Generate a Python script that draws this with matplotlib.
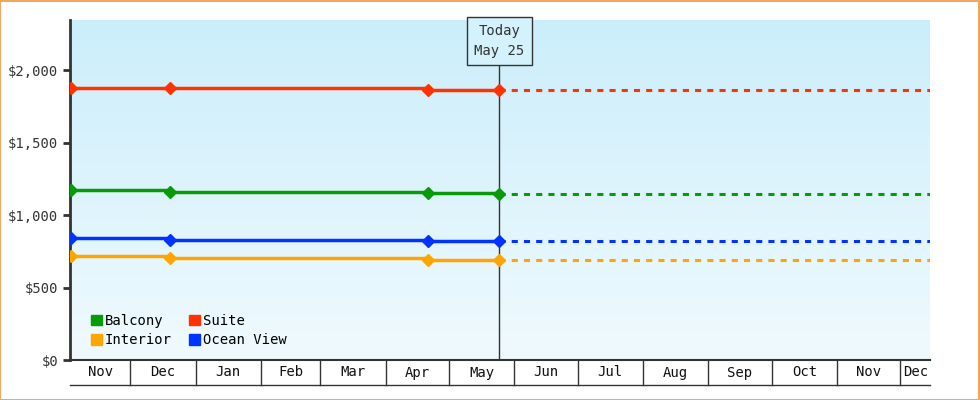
import matplotlib
matplotlib.use("Agg")
import matplotlib.pyplot as plt
import numpy as np
from matplotlib.patches import Patch
from matplotlib.colors import LinearSegmentedColormap

# day numbers counted from Nov 1 (day 0)
month_labels = ["Nov", "Dec", "Jan", "Feb", "Mar", "Apr", "May", "Jun", "Jul", "Aug", "Sep", "Oct", "Nov", "Dec"]
month_starts = [0, 30, 61, 92, 120, 151, 181, 212, 242, 273, 304, 334, 365, 395]
x_start, x_end = 1.5, 409
point_days = [2, 49, 171, 205]
today_day = 205
today_label = "Today\nMay 25"

series_names = ["Balcony", "Interior", "Suite", "Ocean View"]
series_colors = ["#079b07", "#ffa500", "#ff3300", "#0033ff"]
balcony = [1172, 1162, 1150, 1145]
interior = [717, 705, 692, 688]
suite = [1877, 1874, 1862, 1860]
ocean = [842, 830, 823, 820]
series_values = [balcony, interior, suite, ocean]

plt.rcParams['font.family'] = ['DejaVu Sans Mono']
fig = plt.figure(figsize=(9.8, 4), dpi=100)
fig.patch.set_facecolor("white")
fig.patches.append(plt.Rectangle((0.0005, 0.001), 0.998, 0.997, transform=fig.transFigure,
                                 fill=False, edgecolor="#f0a860", lw=1.5))
ax = fig.add_axes([70/980, 40/400, 860/980, 340/400])
ax.set_xlim(x_start, x_end)
ax.set_ylim(0, 2345)

grad = np.linspace(0, 1, 256).reshape(-1, 1)
cm = LinearSegmentedColormap.from_list("g", ["#f0fafe", "#cbeefb"])
ax.imshow(grad, extent=[x_start, x_end, 0, 2345], origin="lower", aspect="auto", cmap=cm, zorder=0)

for name, vals, col in zip(series_names, series_values, series_colors):
    ax.plot(point_days, vals, drawstyle="steps-post", color=col, lw=2.5, zorder=3)
    ax.plot(point_days, vals, ls="none", marker="D", ms=6, color=col, zorder=4)
    ax.plot([today_day, x_end], [vals[-1], vals[-1]], color=col, lw=2.2, ls=(0, (2, 2)), zorder=3)

ax.axvline(today_day, ymax=0.88, color="#333333", lw=1, zorder=2)
ax.text(today_day, 2200, today_label, ha="center", va="center", fontsize=10, color="#333333",
        linespacing=1.5,
        bbox=dict(boxstyle="square,pad=0.5", fc="#d4f2fc", ec="#333333", lw=1), zorder=5)

ax.set_yticks([0, 500, 1000, 1500, 2000])
ax.set_yticklabels(["$0", "$500", "$1,000", "$1,500", "$2,000"], fontsize=10, color="#333333")
ax.tick_params(axis="y", length=5, width=2, color="#333333")
ax.set_xticks([])
for s in ["top", "right"]:
    ax.spines[s].set_visible(False)
ax.spines["left"].set_linewidth(2)
ax.spines["left"].set_color("#333333")
ax.spines["bottom"].set_color("#333333")
ax.spines["bottom"].set_linewidth(1.5)

trans = ax.get_xaxis_transform()
yb = -25/340
ax.plot([x_start, x_end], [yb, yb], transform=trans, color="#333333", lw=1, clip_on=False)
bounds = month_starts[1:] + [x_end]
lefts = [x_start] + month_starts[1:]
for m in month_starts[1:]:
    ax.plot([m, m], [0, yb], transform=trans, color="#333333", lw=1, clip_on=False)
for lab, l, r in zip(month_labels, lefts, bounds):
    ax.text((l + r) / 2, yb / 2, lab, transform=trans, ha="center", va="center", fontsize=10, color="#111111")

handles = [Patch(color=c, label=n) for n, c in zip(series_names, series_colors)]
ax.legend(handles=handles, ncol=2, loc="lower left", bbox_to_anchor=(0.01, 0.0), frameon=False,
          fontsize=10, handlelength=0.8, handleheight=0.8, handletextpad=0.2, columnspacing=1.2,
          labelspacing=0.4)

fig.savefig("out.png", dpi=100)
